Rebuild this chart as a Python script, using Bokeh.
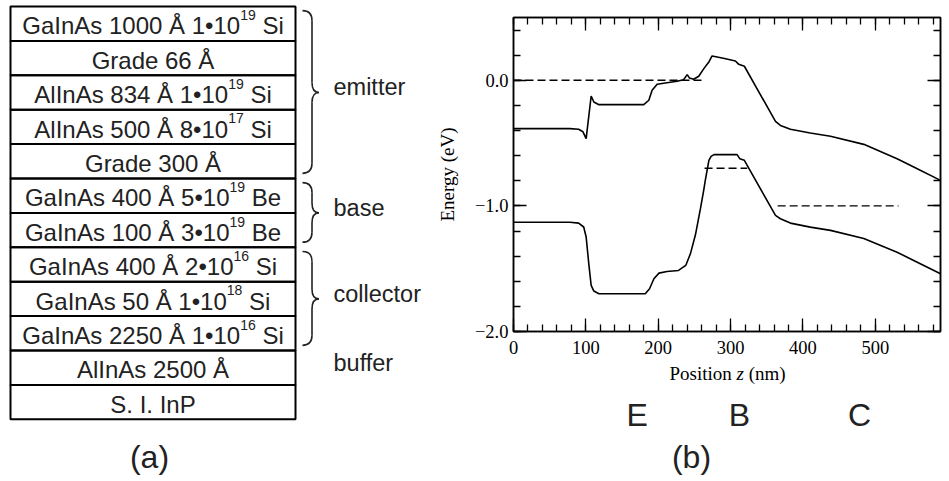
import math
from bokeh.plotting import figure
from bokeh.models import Range1d, LinearAxis, SingleIntervalTicker, CustomJSTickFormatter
from bokeh.embed import file_html
from bokeh.resources import INLINE
from bokeh.core.properties import value

# ---------------- (a) layer stack data ----------------
layer_material = ["GaInAs", "Grade", "AlInAs", "AlInAs", "Grade", "GaInAs",
                  "GaInAs", "GaInAs", "GaInAs", "GaInAs", "AlInAs", "S. I. InP"]
layer_thickness = ["1000", "66", "834", "500", "300", "400", "100", "400",
                   "50", "2250", "2500", ""]
doping_mantissa = ["1", "", "1", "8", "", "5", "3", "2", "1", "1", "", ""]
doping_exponent = ["19", "", "19", "17", "", "19", "19", "16", "18", "16", "", ""]
dopant = ["Si", "", "Si", "Si", "", "Be", "Be", "Si", "Si", "Si", "", ""]

region_names = ["emitter", "base", "collector", "buffer"]
region_first = [0, 5, 7, 10]
region_last = [4, 6, 9, 10]
region_brace = [True, True, True, False]

# ---------------- (b) band diagram data ----------------
cb_z = [0, 78, 90, 96, 100.4, 107.3, 111, 118, 180, 187, 191.5, 198.5, 212, 226,
        235, 240, 243, 249, 256, 263, 267.5, 270, 274.4, 290, 306.6, 311.3, 319,
        362, 368.8, 382.6, 410, 438, 484, 530, 553, 590]
cb_E = [-0.385, -0.385, -0.39, -0.41, -0.465, -0.125, -0.173, -0.194, -0.194,
        -0.159, -0.08, -0.032, -0.019, -0.008, 0.005, 0.045, 0.019, 0.008, 0.032,
        0.093, 0.127, 0.146, 0.194, 0.175, 0.154, 0.127, 0.112, -0.327, -0.359,
        -0.39, -0.42, -0.445, -0.51, -0.624, -0.69, -0.797]

vb_z = [0, 78, 90, 97, 100.4, 104, 107.3, 111, 118, 182, 188, 194, 201, 212, 228,
        238, 244.5, 251.4, 258.3, 262.8, 265, 270, 273, 277, 309, 312.6, 319,
        362, 368.8, 382.6, 410, 438, 484, 530, 553, 590]
vb_E = [-1.13, -1.13, -1.137, -1.168, -1.248, -1.46, -1.633, -1.678, -1.70, -1.70,
        -1.66, -1.58, -1.535, -1.522, -1.514, -1.474, -1.38, -1.23, -1.022, -0.876,
        -0.797, -0.637, -0.606, -0.592, -0.592, -0.624, -0.637, -1.076, -1.102,
        -1.137, -1.169, -1.195, -1.26, -1.369, -1.434, -1.54]

level_z_start = [0, 264, 365]
level_z_end = [265, 323, 532]
level_E = [0.0, -0.70, -1.0]

region_letters = ["E", "B", "C"]

# ---------------- helpers ----------------
ARIAL = {' ': 278, 'A': 667, 'B': 667, 'G': 778, 'I': 278, 'P': 667, 'S': 667,
         'a': 556, 'd': 556, 'e': 556, 'i': 222, 'l': 222, 'n': 556, 'r': 333,
         's': 500, 'Å': 667, '•': 350, '.': 278}
for c in "0123456789":
    ARIAL[c] = 556


def text_width(s, size):
    return sum(ARIAL.get(c, 556) for c in s) * size / 1000.0


SANS = "Liberation Sans"
SERIF = "Liberation Serif"
SANS_MID = 0.3465    # baseline -> em-box middle, in em (Liberation Sans)
SERIF_MID = 0.3375   # same for Liberation Serif
INK = "#222222"
MAIN_PX = 24
SUP_PX = 14
LAB_PX = 23.5
BIG_PX = 32
SER_PX = 19

W, H = 949, 481
ROW_H = 34.4      # px per layer row
TOP_PX = 6.0      # px above first row
BOX_L, BOX_R = 10, 295

# ---------------- background figure: panel (a) and free texts ----------------
bg = figure(width=W, height=H, toolbar_location=None, output_backend="svg",
            x_range=Range1d(0, W),
            y_range=Range1d((H - TOP_PX) / ROW_H, -TOP_PX / ROW_H),
            x_axis_location=None, y_axis_location=None, min_border=0,
            min_border_top=0, min_border_bottom=0, min_border_left=0, min_border_right=0)
try:
    bg.title = None
except Exception:
    bg.title.visible = False
bg.extra_y_ranges = {"px": Range1d(H, 0)}
bg.grid.visible = False
bg.outline_line_color = None
bg.background_fill_color = "white"
bg.border_fill_color = "white"
bg.styles = {"position": "absolute", "left": "0px", "top": "0px"}

n = len(layer_material)
idx = list(range(n))
bg.quad(left=[BOX_L] * n, right=[BOX_R] * n, top=idx, bottom=[i + 1 for i in idx],
        fill_color=None, line_color="black", line_width=2)

base_frac = 0.5 + 10.6 / ROW_H                    # text baseline inside a row
main_mid = base_frac - SANS_MID * MAIN_PX / ROW_H  # anchor (middle) for main text
sup_mid = base_frac - (14.3 + SANS_MID * SUP_PX) / ROW_H
center_x = (BOX_L + BOX_R) / 2.0

mx, my, mt, sx, sy, st, dx, dy, dt = [], [], [], [], [], [], [], [], []
for i in idx:
    main = layer_material[i]
    if layer_thickness[i]:
        main += " " + layer_thickness[i] + " Å"
    if doping_mantissa[i]:
        main += " " + doping_mantissa[i] + "•10"
    w_main = text_width(main, MAIN_PX)
    w_sup = text_width(doping_exponent[i], SUP_PX)
    w_dop = text_width(" " + dopant[i], MAIN_PX) if dopant[i] else 0.0
    total = w_main + w_sup + w_dop
    x0 = center_x - total / 2.0
    mx.append(x0); my.append(i + main_mid); mt.append(main)
    if doping_exponent[i]:
        sx.append(x0 + w_main); sy.append(i + sup_mid); st.append(doping_exponent[i])
        dx.append(x0 + w_main + w_sup + text_width(" ", MAIN_PX))
        dy.append(i + main_mid); dt.append(dopant[i])

for xs, ys, ts, size in ((mx, my, mt, MAIN_PX), (sx, sy, st, SUP_PX), (dx, dy, dt, MAIN_PX)):
    bg.text(x=xs, y=ys, text=ts, text_font=value(SANS), text_font_size="%dpx" % size,
            text_align="left", text_baseline="middle", text_color=INK)

# braces
BR_X0, BR_XM, BR_TIP = 302, 311.5, 318.5
R = 10.0 / ROW_H
qx0, qy0, qx1, qy1, qcx, qcy = [], [], [], [], [], []
lx0, ly0, lx1, ly1 = [], [], [], []
lab_x, lab_y, lab_t = [], [], []
for name, a, b, br in zip(region_names, region_first, region_last, region_brace):
    ym = (a + b + 1) / 2.0
    lab_x.append(333)
    lab_y.append(ym + (3.0 - SANS_MID * LAB_PX) / ROW_H)
    lab_t.append(name)
    if not br:
        continue
    y0 = a + 0.12
    y1 = b + 1 - 0.15
    qx0 += [BR_X0, BR_XM, BR_TIP, BR_XM]
    qy0 += [y0, ym - R, ym, y1 - R]
    qx1 += [BR_XM, BR_TIP, BR_XM, BR_X0]
    qy1 += [y0 + R, ym, ym + R, y1]
    qcx += [BR_XM, BR_XM, BR_XM, BR_XM]
    qcy += [y0, ym, ym, y1]
    lx0 += [BR_XM, BR_XM]; ly0 += [y0 + R, ym + R]
    lx1 += [BR_XM, BR_XM]; ly1 += [ym - R, y1 - R]

bg.quadratic(x0=qx0, y0=qy0, x1=qx1, y1=qy1, cx=qcx, cy=qcy, line_color=INK, line_width=1.6)
bg.segment(x0=lx0, y0=ly0, x1=lx1, y1=ly1, line_color=INK, line_width=1.6)
bg.text(x=lab_x, y=lab_y, text=lab_t, text_font=value(SANS), text_font_size="%spx" % LAB_PX,
        text_align="left", text_baseline="middle", text_color=INK)

# panel captions and panel (b) axis titles (pixel coordinates, baselines converted to middles)
cap_y = 468 - SANS_MID * BIG_PX
bg.text(x=[149, 691], y=[cap_y, cap_y], text=["(a)", "(b)"], y_range_name="px",
        text_font=value(SANS), text_font_size="%dpx" % BIG_PX, text_align="center",
        text_baseline="middle", text_color=INK)
let_y = 426 - SANS_MID * BIG_PX
bg.text(x=[636.7, 739, 859], y=[let_y] * 3, text=region_letters, y_range_name="px",
        text_font=value(SANS), text_font_size="%dpx" % BIG_PX, text_align="center",
        text_baseline="middle", text_color=INK)
bg.text(x=[446.6], y=[174], text=["Energy (eV)"], angle=math.pi / 2, y_range_name="px",
        text_font=value(SERIF), text_font_size="%dpx" % SER_PX, text_align="center",
        text_baseline="middle", text_color="black")
pos_y = 379 - SERIF_MID * SER_PX
bg.text(x=[669, 748.2], y=[pos_y, pos_y], text=["Position", "(nm)"], y_range_name="px",
        text_font=value(SERIF), text_font_size="%dpx" % SER_PX, text_align="left",
        text_baseline="middle", text_color="black")
bg.text(x=[736], y=[pos_y], text=["z"], y_range_name="px",
        text_font=value(SERIF), text_font_style="italic", text_font_size="%dpx" % SER_PX,
        text_align="left", text_baseline="middle", text_color="black")

# ---------------- panel (b): band diagram ----------------
p = figure(width=509, height=371, toolbar_location=None, output_backend="svg",
           x_range=Range1d(0, 590), y_range=Range1d(-2.0, 0.5),
           min_border_left=73, min_border_right=9, min_border_top=17, min_border_bottom=40)
p.styles = {"position": "absolute", "left": "440px", "top": "0px"}
p.grid.visible = False
p.outline_line_color = "black"
p.outline_line_width = 1.5
p.background_fill_color = None
p.border_fill_color = None

p.add_layout(LinearAxis(), "above")
p.add_layout(LinearAxis(), "right")

xt = SingleIntervalTicker(interval=100, num_minor_ticks=5)
yt = SingleIntervalTicker(interval=1.0, num_minor_ticks=5)
yfmt = CustomJSTickFormatter(code="return (tick < 0 ? '\u2212' : '') + Math.abs(tick).toFixed(1);")
blank = CustomJSTickFormatter(code="return '';")

for ax in p.xaxis:
    ax.ticker = xt
for ax in p.yaxis:
    ax.ticker = yt
    ax.formatter = yfmt

for ax in p.axis:
    ax.axis_line_width = 1.5
    ax.major_tick_in = 13
    ax.major_tick_out = 0
    ax.minor_tick_in = 7
    ax.minor_tick_out = 0
    ax.major_tick_line_width = 1.3
    ax.minor_tick_line_width = 1.3
    ax.major_label_text_font = SERIF
    ax.major_label_text_font_size = "18.5px"
    ax.major_label_text_color = "black"

p.below[0].major_label_standoff = 9
p.left[0].major_label_standoff = 5
for ax in (p.above[0], p.right[0]):
    ax.formatter = blank
    ax.major_label_standoff = 0

p.line(cb_z, cb_E, line_color="black", line_width=1.6)
p.line(vb_z, vb_E, line_color="black", line_width=1.6)
p.segment(x0=level_z_start, y0=level_E, x1=level_z_end, y1=level_E,
          line_color="black", line_width=1.4, line_dash="8 4")

open("out.html", "w").write(file_html([bg, p], INLINE))
